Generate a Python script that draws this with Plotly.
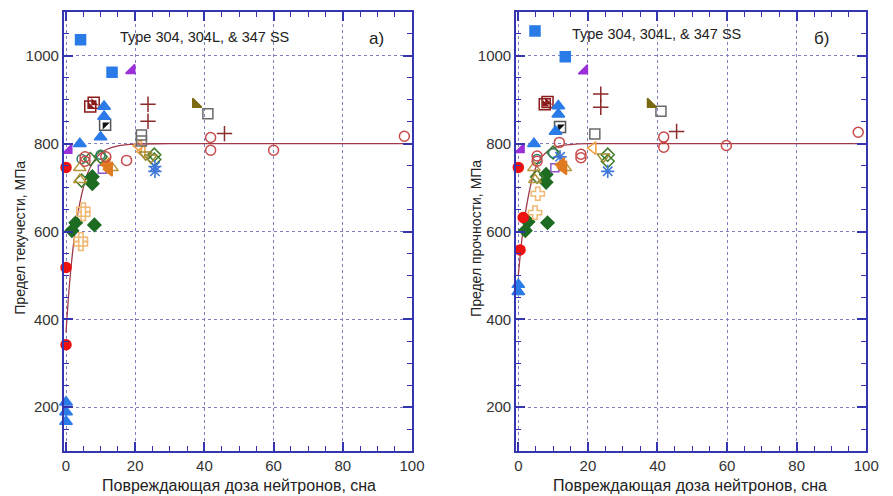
import plotly.graph_objects as go

# ---------------- data: panel a) (yield strength) ----------------
curve_x = [0, 1, 2, 3, 4, 5, 6, 8, 10, 12, 15, 20, 30, 100]
curve_a_y = [370, 480, 560, 620, 665, 700, 728, 760, 778, 788, 795, 799, 800, 800]
curve_b_y = [500, 580, 640, 685, 720, 745, 762, 780, 790, 795, 798, 800, 800, 800]

blue_sq_a_x = [4.2, 13.3]; blue_sq_a_y = [1037, 963]
blue_tri_a_x = [11, 11, 10, 4, 0, 0, 0]; blue_tri_a_y = [885, 862, 815, 800, 211, 189, 167]
purple_tri_a_x = [19, 0.8]; purple_tri_a_y = [967, 785]
olive_tri_a_x = [37.5]; olive_tri_a_y = [890]
dred_sq_a_x = [7, 8]; dred_sq_a_y = [885, 893]
black_sq_a_x = [11.3]; black_sq_a_y = [843]
gray_sq_a_x = [21.8, 21.8, 41]; gray_sq_a_y = [820, 806, 868]
plus_a_x = [23.7, 23.7, 45.8]; plus_a_y = [890, 851, 823]
red_open_a_x = [41.8, 41.8, 60, 97.8, 17.5, 11.5, 5.5, 5.5]
red_open_a_y = [814, 785, 785, 817, 762, 770, 770, 760]
red_fill_a_x = [0, 0, 0]; red_fill_a_y = [746, 518, 342]
gdia_fill_a_x = [7.6, 7.6, 2.8, 1.7, 8.2]; gdia_fill_a_y = [725, 709, 620, 602, 615]
gdia_open_a_x = [4.5, 25.5, 25.5, 10, 7]; gdia_open_a_y = [716, 775, 764, 770, 765]
tan_tri_a_x = [4, 4, 13.3]; tan_tri_a_y = [745, 718, 745]
ocross_a_x = [5, 5, 4.3, 4.3]; ocross_a_y = [650, 640, 582, 572]
star_a_x = [25.7, 25.7]; star_a_y = [748, 737]
ofill_a_x = [11.8, 12.5]; ofill_a_y = [752, 742]
otl_a_x = [21, 22]; otl_a_y = [795, 782]
otd_a_x = [24.5, 23]; otd_a_y = [768, 775]
purple_open_a_x = [10.5]; purple_open_a_y = [742]
gcirc_a_x = [4.5, 10]; gcirc_a_y = [765, 775]

# ---------------- data: panel б) (ultimate strength) ----------------
blue_sq_b_x = [4.8, 13.5]; blue_sq_b_y = [1057, 998]
blue_tri_b_x = [11.5, 11.5, 10.7, 4.5, 0, 0]; blue_tri_b_y = [886, 867, 828, 800, 479, 463]
purple_tri_b_x = [19, 0.8]; purple_tri_b_y = [966, 787]
olive_tri_b_x = [38]; olive_tri_b_y = [890]
dred_sq_b_x = [7.6, 8.4]; dred_sq_b_y = [890, 895]
black_sq_b_x = [12]; black_sq_b_y = [838]
gray_sq_b_x = [22, 41]; gray_sq_b_y = [822, 874]
plus_b_x = [23.7, 23.7, 45.5]; plus_b_y = [913, 883, 828]
red_open_b_x = [41.8, 41.8, 59.8, 97.7, 11.8, 18, 18, 5.4, 5.4]
red_open_b_y = [815, 792, 796, 826, 803, 776, 768, 772, 760]
red_fill_b_x = [0, 1.4, 0.5]; red_fill_b_y = [746, 632, 558]
gdia_fill_b_x = [8, 8, 2.8, 2, 8.4]; gdia_fill_b_y = [730, 712, 622, 602, 620]
gdia_open_b_x = [5.4, 10, 25.7, 25.7]; gdia_open_b_y = [725, 780, 775, 760]
tan_tri_b_x = [4.8, 4.5, 13.5]; tan_tri_b_y = [718, 745, 745]
ocross_b_x = [5.6, 4.8]; ocross_b_y = [686, 643]
star_b_x = [25.7, 12]; star_b_y = [737, 770]
ofill_b_x = [12.4, 13]; ofill_b_y = [752, 745]
otl_b_x = [21.5]; otl_b_y = [790]
otd_b_x = [24.5]; otd_b_y = [770]
purple_open_b_x = [10.5]; purple_open_b_y = [745]
gcirc_b_x = [5.4, 10]; gcirc_b_y = [765, 778]

x_ticks = [0, 20, 40, 60, 80, 100]
y_ticks = [200, 400, 600, 800, 1000]

fig = go.Figure()


def pts(x, y, ax, symbol, color, size=10, lw=1.5):
    xa, ya = ("x", "y") if ax == 1 else ("x2", "y2")
    marker = dict(symbol=symbol, size=size, color=color,
                  line=dict(color=color, width=lw))
    fig.add_trace(go.Scatter(x=x, y=y, xaxis=xa, yaxis=ya, mode="markers",
                             marker=marker, cliponaxis=False, showlegend=False,
                             hoverinfo="x+y"))


CURVE = "#a03a48"
for ax, cy in ((1, curve_a_y), (2, curve_b_y)):
    xa, ya = ("x", "y") if ax == 1 else ("x2", "y2")
    fig.add_trace(go.Scatter(x=curve_x, y=cy, xaxis=xa, yaxis=ya, mode="lines",
                             line=dict(color=CURVE, width=1.3, shape="spline"),
                             showlegend=False, hoverinfo="skip"))

sets = [
    (1, dict(bs=(blue_sq_a_x, blue_sq_a_y), bt=(blue_tri_a_x, blue_tri_a_y),
             pt=(purple_tri_a_x, purple_tri_a_y), ot=(olive_tri_a_x, olive_tri_a_y),
             ds=(dred_sq_a_x, dred_sq_a_y), ks=(black_sq_a_x, black_sq_a_y),
             gs=(gray_sq_a_x, gray_sq_a_y), pl=(plus_a_x, plus_a_y),
             ro=(red_open_a_x, red_open_a_y), rf=(red_fill_a_x, red_fill_a_y),
             gf=(gdia_fill_a_x, gdia_fill_a_y), go_=(gdia_open_a_x, gdia_open_a_y),
             tt=(tan_tri_a_x, tan_tri_a_y), oc=(ocross_a_x, ocross_a_y),
             st=(star_a_x, star_a_y), of=(ofill_a_x, ofill_a_y),
             tl=(otl_a_x, otl_a_y), td=(otd_a_x, otd_a_y),
             po=(purple_open_a_x, purple_open_a_y), gc=(gcirc_a_x, gcirc_a_y))),
    (2, dict(bs=(blue_sq_b_x, blue_sq_b_y), bt=(blue_tri_b_x, blue_tri_b_y),
             pt=(purple_tri_b_x, purple_tri_b_y), ot=(olive_tri_b_x, olive_tri_b_y),
             ds=(dred_sq_b_x, dred_sq_b_y), ks=(black_sq_b_x, black_sq_b_y),
             gs=(gray_sq_b_x, gray_sq_b_y), pl=(plus_b_x, plus_b_y),
             ro=(red_open_b_x, red_open_b_y), rf=(red_fill_b_x, red_fill_b_y),
             gf=(gdia_fill_b_x, gdia_fill_b_y), go_=(gdia_open_b_x, gdia_open_b_y),
             tt=(tan_tri_b_x, tan_tri_b_y), oc=(ocross_b_x, ocross_b_y),
             st=(star_b_x, star_b_y), of=(ofill_b_x, ofill_b_y),
             tl=(otl_b_x, otl_b_y), td=(otd_b_x, otd_b_y),
             po=(purple_open_b_x, purple_open_b_y), gc=(gcirc_b_x, gcirc_b_y))),
]

for ax, d in sets:
    pts(*d["gf"], ax, "diamond", "#1e6b22", 10)
    pts(*d["go_"], ax, "diamond-open", "#3c7a2a", 10)
    pts(*d["gc"], ax, "circle-open", "#2f7f6a", 9)
    pts(*d["tt"], ax, "triangle-up-open", "#b8953a", 11)
    pts(*d["oc"], ax, "cross-open", "#f0b870", 11)
    pts(*d["st"], ax, "asterisk-open", "#3f78d8", 11, lw=1.6)
    pts(*d["po"], ax, "square-open", "#8a55c8", 8)
    pts(*d["of"], ax, "triangle-left", "#e07a20", 12)
    pts(*d["tl"], ax, "triangle-left-open", "#f0a040", 11)
    pts(*d["td"], ax, "triangle-down-open", "#9a8a30", 11)
    pts(*d["ro"], ax, "circle-open", "#c84a4a", 10)
    pts(*d["rf"], ax, "circle", "#ee1111", 10)
    pts(*d["gs"], ax, "square-open", "#6a6a6a", 10)
    pts(*d["pl"], ax, "cross-thin-open", "#8b2a2a", 11)
    pts(*d["ds"], ax, "square-open", "#8b1a1a", 11)
    pts(*d["ds"], ax, "triangle-sw", "#8b1a1a", 8, lw=0)
    pts(*d["ks"], ax, "square-open", "#555555", 11)
    pts(*d["ks"], ax, "triangle-nw", "#111111", 8, lw=0)
    pts(*d["bt"], ax, "triangle-up", "#2a7be8", 11)
    pts(*d["bs"], ax, "square", "#2a7be8", 10)
    pts(*d["pt"], ax, "triangle-se", "#9b30d9", 10)
    pts(*d["ot"], ax, "triangle-sw", "#7a6a12", 10)

AXC = "#3535b0"
GRID = "#8080c0"
FONT = "Liberation Sans, Arial, sans-serif"


def xax(domain, anchor):
    return dict(domain=domain, anchor=anchor, range=[-0.6, 100], tickvals=x_ticks,
                showline=True, linecolor=AXC, linewidth=2, mirror="ticks",
                ticks="inside", ticklen=9, tickcolor=AXC, tickwidth=1.5,
                showgrid=True, gridcolor=GRID, griddash="dot", gridwidth=1,
                zeroline=False, tickfont=dict(size=15, color="#333", family=FONT),
                minor=dict(dtick=5, tick0=0, ticks="inside", ticklen=5,
                           tickcolor=AXC, tickwidth=1.2, showgrid=False))


def yax(domain, anchor):
    return dict(domain=domain, anchor=anchor, range=[100, 1100], tickvals=y_ticks,
                showline=True, linecolor=AXC, linewidth=2, mirror="ticks",
                ticks="inside", ticklen=9, tickcolor=AXC, tickwidth=1.5,
                showgrid=True, gridcolor=GRID, griddash="dot", gridwidth=1,
                zeroline=False, tickfont=dict(size=15, color="#333", family=FONT),
                minor=dict(dtick=50, tick0=0, ticks="inside", ticklen=5,
                           tickcolor=AXC, tickwidth=1.2, showgrid=False))


ydom = [(496 - 451) / 496, (496 - 12) / 496]
fig.update_layout(
    width=893, height=496, margin=dict(l=0, r=0, t=0, b=0),
    paper_bgcolor="white", plot_bgcolor="white",
    font=dict(family=FONT, color="#222"),
    xaxis=xax([63 / 893, 417 / 893], "y"),
    yaxis=yax(ydom, "x"),
    xaxis2=xax([523 / 893, 879 / 893], "y2"),
    yaxis2=yax(ydom, "x2"),
)

ann = [
    dict(text="Type 304, 304L, & 347 SS", x=206 / 893, y=1 - 37 / 496, size=14.5),
    dict(text="Type 304, 304L, & 347 SS", x=666 / 893, y=1 - 34 / 496, size=14.5),
    dict(text="a)", x=381 / 893, y=1 - 39 / 496, size=17),
    dict(text="б)", x=833 / 893, y=1 - 38 / 496, size=17),
    dict(text="Повреждающая доза нейтронов, сна", x=241 / 893, y=1 - 485 / 496, size=16),
    dict(text="Повреждающая доза нейтронов, сна", x=700 / 893, y=1 - 485 / 496, size=16),
]
for a in ann:
    fig.add_annotation(text=a["text"], x=a["x"], y=a["y"], xref="paper", yref="paper",
                       showarrow=False, xanchor="center", yanchor="middle",
                       font=dict(size=a["size"], color="#222", family=FONT))
for t, xp, yp in (("Предел текучести, МПа", 18, 238), ("Предел прочности, МПа", 482, 238)):
    fig.add_annotation(text=t, x=xp / 893, y=1 - yp / 496, xref="paper", yref="paper",
                       showarrow=False, textangle=-90, xanchor="center", yanchor="middle",
                       font=dict(size=14, color="#222", family=FONT))

fig.write_html("out.html")
